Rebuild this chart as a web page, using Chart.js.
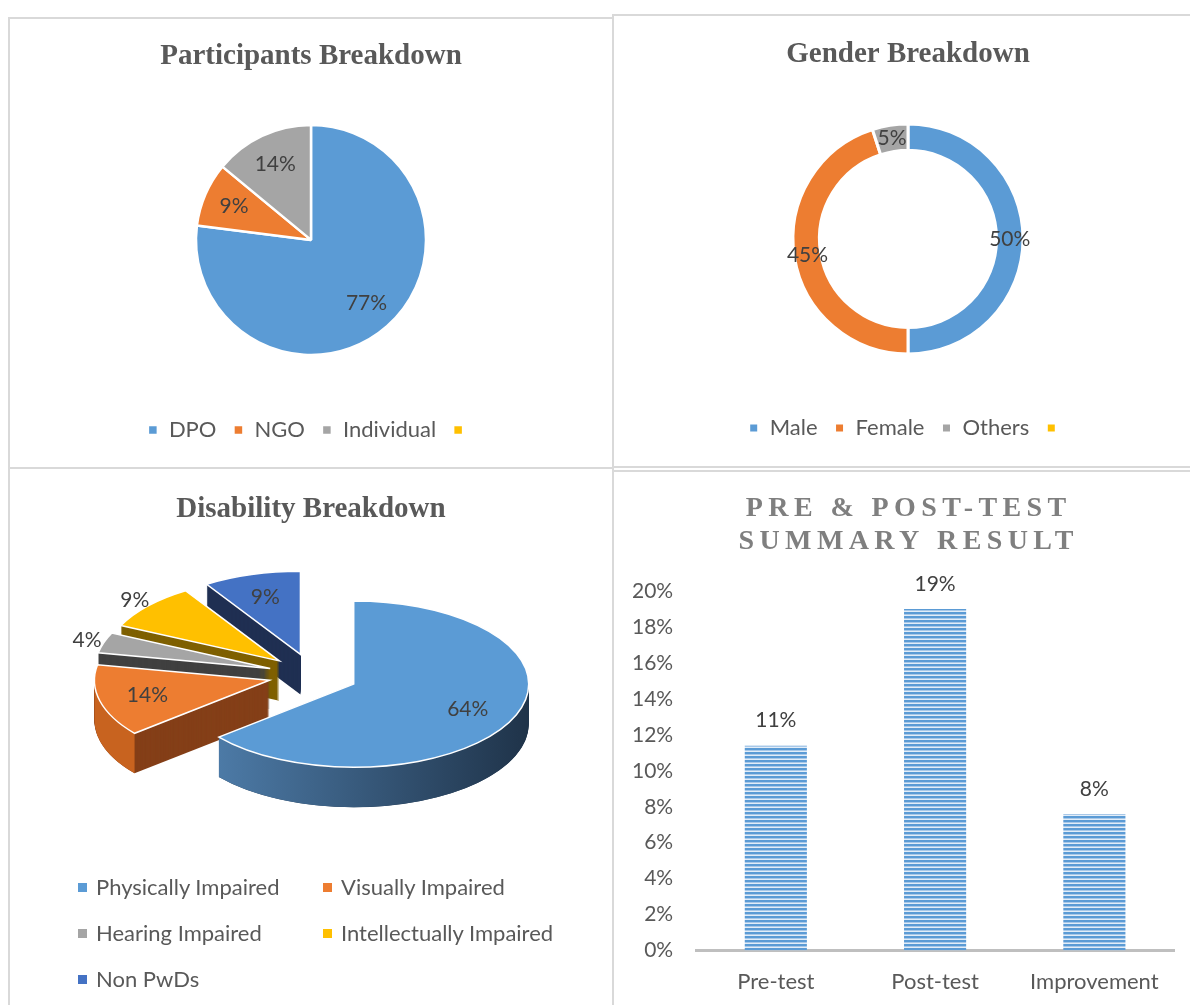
<!DOCTYPE html>
<html>
<head>
<meta charset="utf-8">
<script src="https://cdn.jsdelivr.net/npm/chart.js@4.4.0/dist/chart.umd.min.js"></script>
<style>
  html, body { margin: 0; padding: 0; background: #fff; overflow: hidden; }
  body { width: 1190px; height: 1005px; position: relative; }
  .panel { position: absolute; border: 2px solid #d9d9d9; box-sizing: border-box; background: #fff; }
  .panel .box { position: absolute; left: 0; top: 0; right: 0; bottom: 0; }
  #p1 { left: 8px; top: 17px; width: 606px; height: 452px; }
  #p2 { left: 612px; top: 14px; width: 588px; height: 454px; }
  #p3 { left: 8px; top: 467px; width: 606px; height: 600px; }
  #p4 { left: 612px; top: 470px; width: 588px; height: 600px; }
  #p3 .box { bottom: auto; height: 536px; }
  #p4 .box { bottom: auto; height: 545px; }
  #legend3 { position: absolute; left: 68px; top: 395px; display: grid; grid-template-columns: 245px auto;
             font-family: Lato, sans-serif; font-size: 22px; color: #595959; }
  #legend3 div { height: 46px; line-height: 46px; white-space: nowrap; }
  #legend3 span { display: inline-block; width: 9px; height: 9px; margin-right: 9px; vertical-align: middle; position: relative; top: -2px; }
</style>
</head>
<body>
<div class="panel" id="p1"><div class="box"><canvas id="participants"></canvas></div></div>
<div class="panel" id="p2"><div class="box"><canvas id="gender"></canvas></div></div>
<div class="panel" id="p3"><div class="box"><canvas id="disability"></canvas></div><div id="legend3"></div></div>
<div class="panel" id="p4"><div class="box"><canvas id="tests"></canvas></div></div>
<script>
const participantLabels = ["DPO", "NGO", "Individual", ""];
const participantValues = [77, 9, 14, 0];

const genderLabels = ["Male", "Female", "Others", ""];
const genderValues = [50, 45, 5, 0];

const disabilityLabels = ["Physically Impaired", "Visually Impaired", "Hearing Impaired", "Intellectually Impaired", "Non PwDs"];
const disabilityValues = [64, 14, 4, 9, 9];

const testLabels = ["Pre-test", "Post-test", "Improvement"];
const testValues = [11.4, 19.0, 7.6];

const office = ["#5b9bd5", "#ed7d31", "#a5a5a5", "#ffc000", "#4472c4"];
const titleFont = {family: "Liberation Serif", size: 29, weight: "bold"};
const textFont = {family: "Lato", size: 22};

// percentage labels placed from each arc's own geometry
const sliceLabels = {
  id: "sliceLabels",
  afterDatasetsDraw(chart, args, opts) {
    if (!opts.at) return;
    const ctx = chart.ctx;
    const ds = chart.data.datasets[0];
    ctx.save();
    ctx.font = "21px Lato";
    ctx.fillStyle = "#404040";
    ctx.textAlign = "center";
    ctx.textBaseline = "middle";
    chart.getDatasetMeta(0).data.forEach((a, i) => {
      if (!ds.data[i]) return;
      const m = (a.startAngle + a.endAngle) / 2;
      const r = a.innerRadius + (a.outerRadius - a.innerRadius) * opts.at;
      ctx.fillText(ds.data[i] + "%", a.x + Math.cos(m) * r, a.y + Math.sin(m) * r);
    });
    ctx.restore();
  }
};

// tilted, extruded (exploded) pie drawn from the arc elements
const pie3d = {
  id: "pie3d",
  beforeDatasetsDraw(chart, args, opts) {
    if (!opts.tilt) return;
    const ctx = chart.ctx;
    const arcs = chart.getDatasetMeta(0).data;
    const k = opts.tilt, h = opts.depth;
    const mid = a => (a.startAngle + a.endAngle) / 2;
    const order = arcs.map((a, i) => i).filter(i => arcs[i].circumference > 0)
      .sort((p, q) => Math.sin(mid(arcs[p])) - Math.sin(mid(arcs[q])));
    ctx.save();
    order.forEach(i => {
      const a = arcs[i];
      const m = mid(a);
      const off = a.options.offset || 0;
      const cx = a.x + Math.cos(m) * off, cy = a.y + Math.sin(m) * off * k;
      const r = a.outerRadius;
      const wedge = dy => {
        ctx.beginPath();
        ctx.moveTo(cx, cy + dy);
        ctx.ellipse(cx, cy + dy, r, r * k, 0, a.startAngle, a.endAngle);
        ctx.closePath();
      };
      ctx.fillStyle = opts.sides[i];
      for (let d = h; d > 0; d--) { wedge(d); ctx.fill(); }
      const a1 = Math.max(a.startAngle, 0), a2 = Math.min(a.endAngle, Math.PI);
      if (a2 > a1) {
        ctx.beginPath();
        ctx.ellipse(cx, cy, r, r * k, 0, a1, a2);
        ctx.ellipse(cx, cy + h, r, r * k, 0, a2, a1, true);
        ctx.closePath();
        const c = opts.curves[i];
        if (Array.isArray(c)) {
          const g = ctx.createLinearGradient(cx - r, 0, cx + r, 0);
          g.addColorStop(0, c[0]); g.addColorStop(1, c[1]);
          ctx.fillStyle = g;
        } else ctx.fillStyle = c;
        ctx.fill();
      }
      wedge(0);
      ctx.fillStyle = a.options.backgroundColor;
      ctx.fill();
      ctx.strokeStyle = "#ffffff";
      ctx.lineWidth = 1.5;
      ctx.stroke();
    });
    ctx.restore();
    return false;
  },
  afterDraw(chart, args, opts) {
    if (!opts.tilt) return;
    const ctx = chart.ctx;
    const ds = chart.data.datasets[0];
    const k = opts.tilt;
    ctx.save();
    ctx.font = "21px Lato";
    ctx.fillStyle = "#404040";
    ctx.textAlign = "center";
    ctx.textBaseline = "middle";
    chart.getDatasetMeta(0).data.forEach((a, i) => {
      const m = (a.startAngle + a.endAngle) / 2;
      const off = a.options.offset || 0;
      const f = opts.outside[i] ? 1.1 : 0.72;
      const x = a.x + Math.cos(m) * (off + a.outerRadius * f);
      const y = a.y + Math.sin(m) * (off + a.outerRadius * f) * k;
      ctx.fillText(ds.data[i] + "%", x, y);
    });
    ctx.restore();
  }
};

// titles centred on the canvas (independent of the plot padding)
const freeTitle = {
  id: "freeTitle",
  afterDraw(chart, args, opts) {
    if (!opts.lines) return;
    const ctx = chart.ctx;
    ctx.save();
    ctx.font = opts.font;
    ctx.letterSpacing = opts.spacing || "0px";
    ctx.fillStyle = opts.color;
    ctx.textAlign = "center";
    ctx.textBaseline = "middle";
    opts.lines.forEach((t, i) => ctx.fillText(t, chart.width / 2 + (opts.dx || 0), opts.y + i * (opts.gap || 0)));
    ctx.restore();
  }
};

// value labels above bars
const barLabels = {
  id: "barLabels",
  afterDatasetsDraw(chart, args, opts) {
    if (!opts.show) return;
    const ctx = chart.ctx;
    const ds = chart.data.datasets[0];
    ctx.save();
    ctx.font = "21px Lato";
    ctx.fillStyle = "#404040";
    ctx.textAlign = "center";
    ctx.textBaseline = "middle";
    chart.getDatasetMeta(0).data.forEach((b, i) => {
      ctx.fillText(Math.round(ds.data[i]) + "%", b.x, b.y - 25);
    });
    ctx.restore();
  }
};

Chart.register(sliceLabels, pie3d, freeTitle, barLabels);

const legendOpts = {
  position: "bottom",
  labels: {boxWidth: 10, boxHeight: 10, color: "#595959", font: textFont, padding: 17}
};

new Chart("participants", {
  type: "pie",
  data: {labels: participantLabels, datasets: [{data: participantValues, backgroundColor: office.slice(0, 4), borderColor: "#ffffff", borderWidth: 2.5}]},
  options: {
    responsive: true, maintainAspectRatio: false, animation: false, radius: 115,
    layout: {padding: {bottom: 16}},
    plugins: {
      title: {display: true, text: "Participants Breakdown", color: "#595959", font: titleFont, padding: {top: 20, bottom: 4}},
      legend: legendOpts,
      tooltip: {enabled: false},
      sliceLabels: {at: 0.73}
    }
  }
});

new Chart("gender", {
  type: "doughnut",
  data: {labels: genderLabels, datasets: [{data: genderValues, backgroundColor: office.slice(0, 4), borderColor: "#ffffff", borderWidth: 3}]},
  options: {
    responsive: true, maintainAspectRatio: false, animation: false, radius: 115, cutout: "77%",
    layout: {padding: {bottom: 17, left: 4}},
    plugins: {
      title: {display: true, text: "Gender Breakdown", color: "#595959", font: titleFont, padding: {top: 21, bottom: 6}},
      legend: legendOpts,
      tooltip: {enabled: false},
      sliceLabels: {at: 0.5}
    }
  }
});

const disabilityChart = new Chart("disability", {
  type: "pie",
  data: {labels: disabilityLabels, datasets: [{data: disabilityValues, backgroundColor: office, offset: 45, clip: false}]},
  options: {
    responsive: true, maintainAspectRatio: false, animation: false, radius: 175,
    layout: {padding: {top: 72, left: 4, bottom: 196}},
    plugins: {
      legend: {display: false},
      tooltip: {enabled: false},
      freeTitle: {lines: ["Disability Breakdown"], font: "bold 29px 'Liberation Serif'", color: "#595959", y: 41},
      pie3d: {
        tilt: 0.475, depth: 40,
        sides: ["#223a53", "#843f18", "#404040", "#7f6000", "#1f2f52"],
        curves: [["#5283b2", "#1f3349"], "#c8631f", "#7a7a7a", "#b38600", "#2f5597"],
        outside: [false, false, true, true, false]
      }
    }
  }
});

document.getElementById("legend3").innerHTML = disabilityLabels.map((t, i) =>
  `<div><span style="background:${disabilityChart.data.datasets[0].backgroundColor[i]}"></span>${t}</div>`).join("");

const pc = document.createElement("canvas");
pc.width = 4; pc.height = 4;
const pctx = pc.getContext("2d");
pctx.fillStyle = "#e2edf8"; pctx.fillRect(0, 0, 4, 4);
pctx.fillStyle = "#5b9bd5"; pctx.fillRect(0, 0, 4, 2);
pctx.fillStyle = "#a8c8e8"; pctx.fillRect(0, 2, 4, 1);
const stripes = pctx.createPattern(pc, "repeat");

new Chart("tests", {
  type: "bar",
  data: {labels: testLabels, datasets: [{data: testValues, backgroundColor: stripes, borderWidth: 0, barPercentage: 0.39, categoryPercentage: 1}]},
  options: {
    responsive: true, maintainAspectRatio: false, animation: false,
    layout: {padding: {top: 119, left: -5, right: 24, bottom: 4}},
    scales: {
      x: {
        grid: {display: false, drawTicks: false},
        border: {color: "#bfbfbf", width: 3},
        ticks: {color: "#595959", font: textFont, padding: 18}
      },
      y: {
        min: 0, max: 20,
        grid: {display: false, drawTicks: false},
        border: {display: false},
        ticks: {stepSize: 2, callback: v => v + "%", color: "#595959", font: {family: "Lato", size: 21}, padding: 23}
      }
    },
    plugins: {
      legend: {display: false},
      tooltip: {enabled: false},
      freeTitle: {lines: ["PRE & POST-TEST", "SUMMARY RESULT"], font: "bold 28px 'Liberation Serif'", spacing: "5.4px", dx: 2.7, color: "#7f7f7f", y: 37, gap: 33},
      barLabels: {show: true}
    }
  }
});
</script>
</body>
</html>
